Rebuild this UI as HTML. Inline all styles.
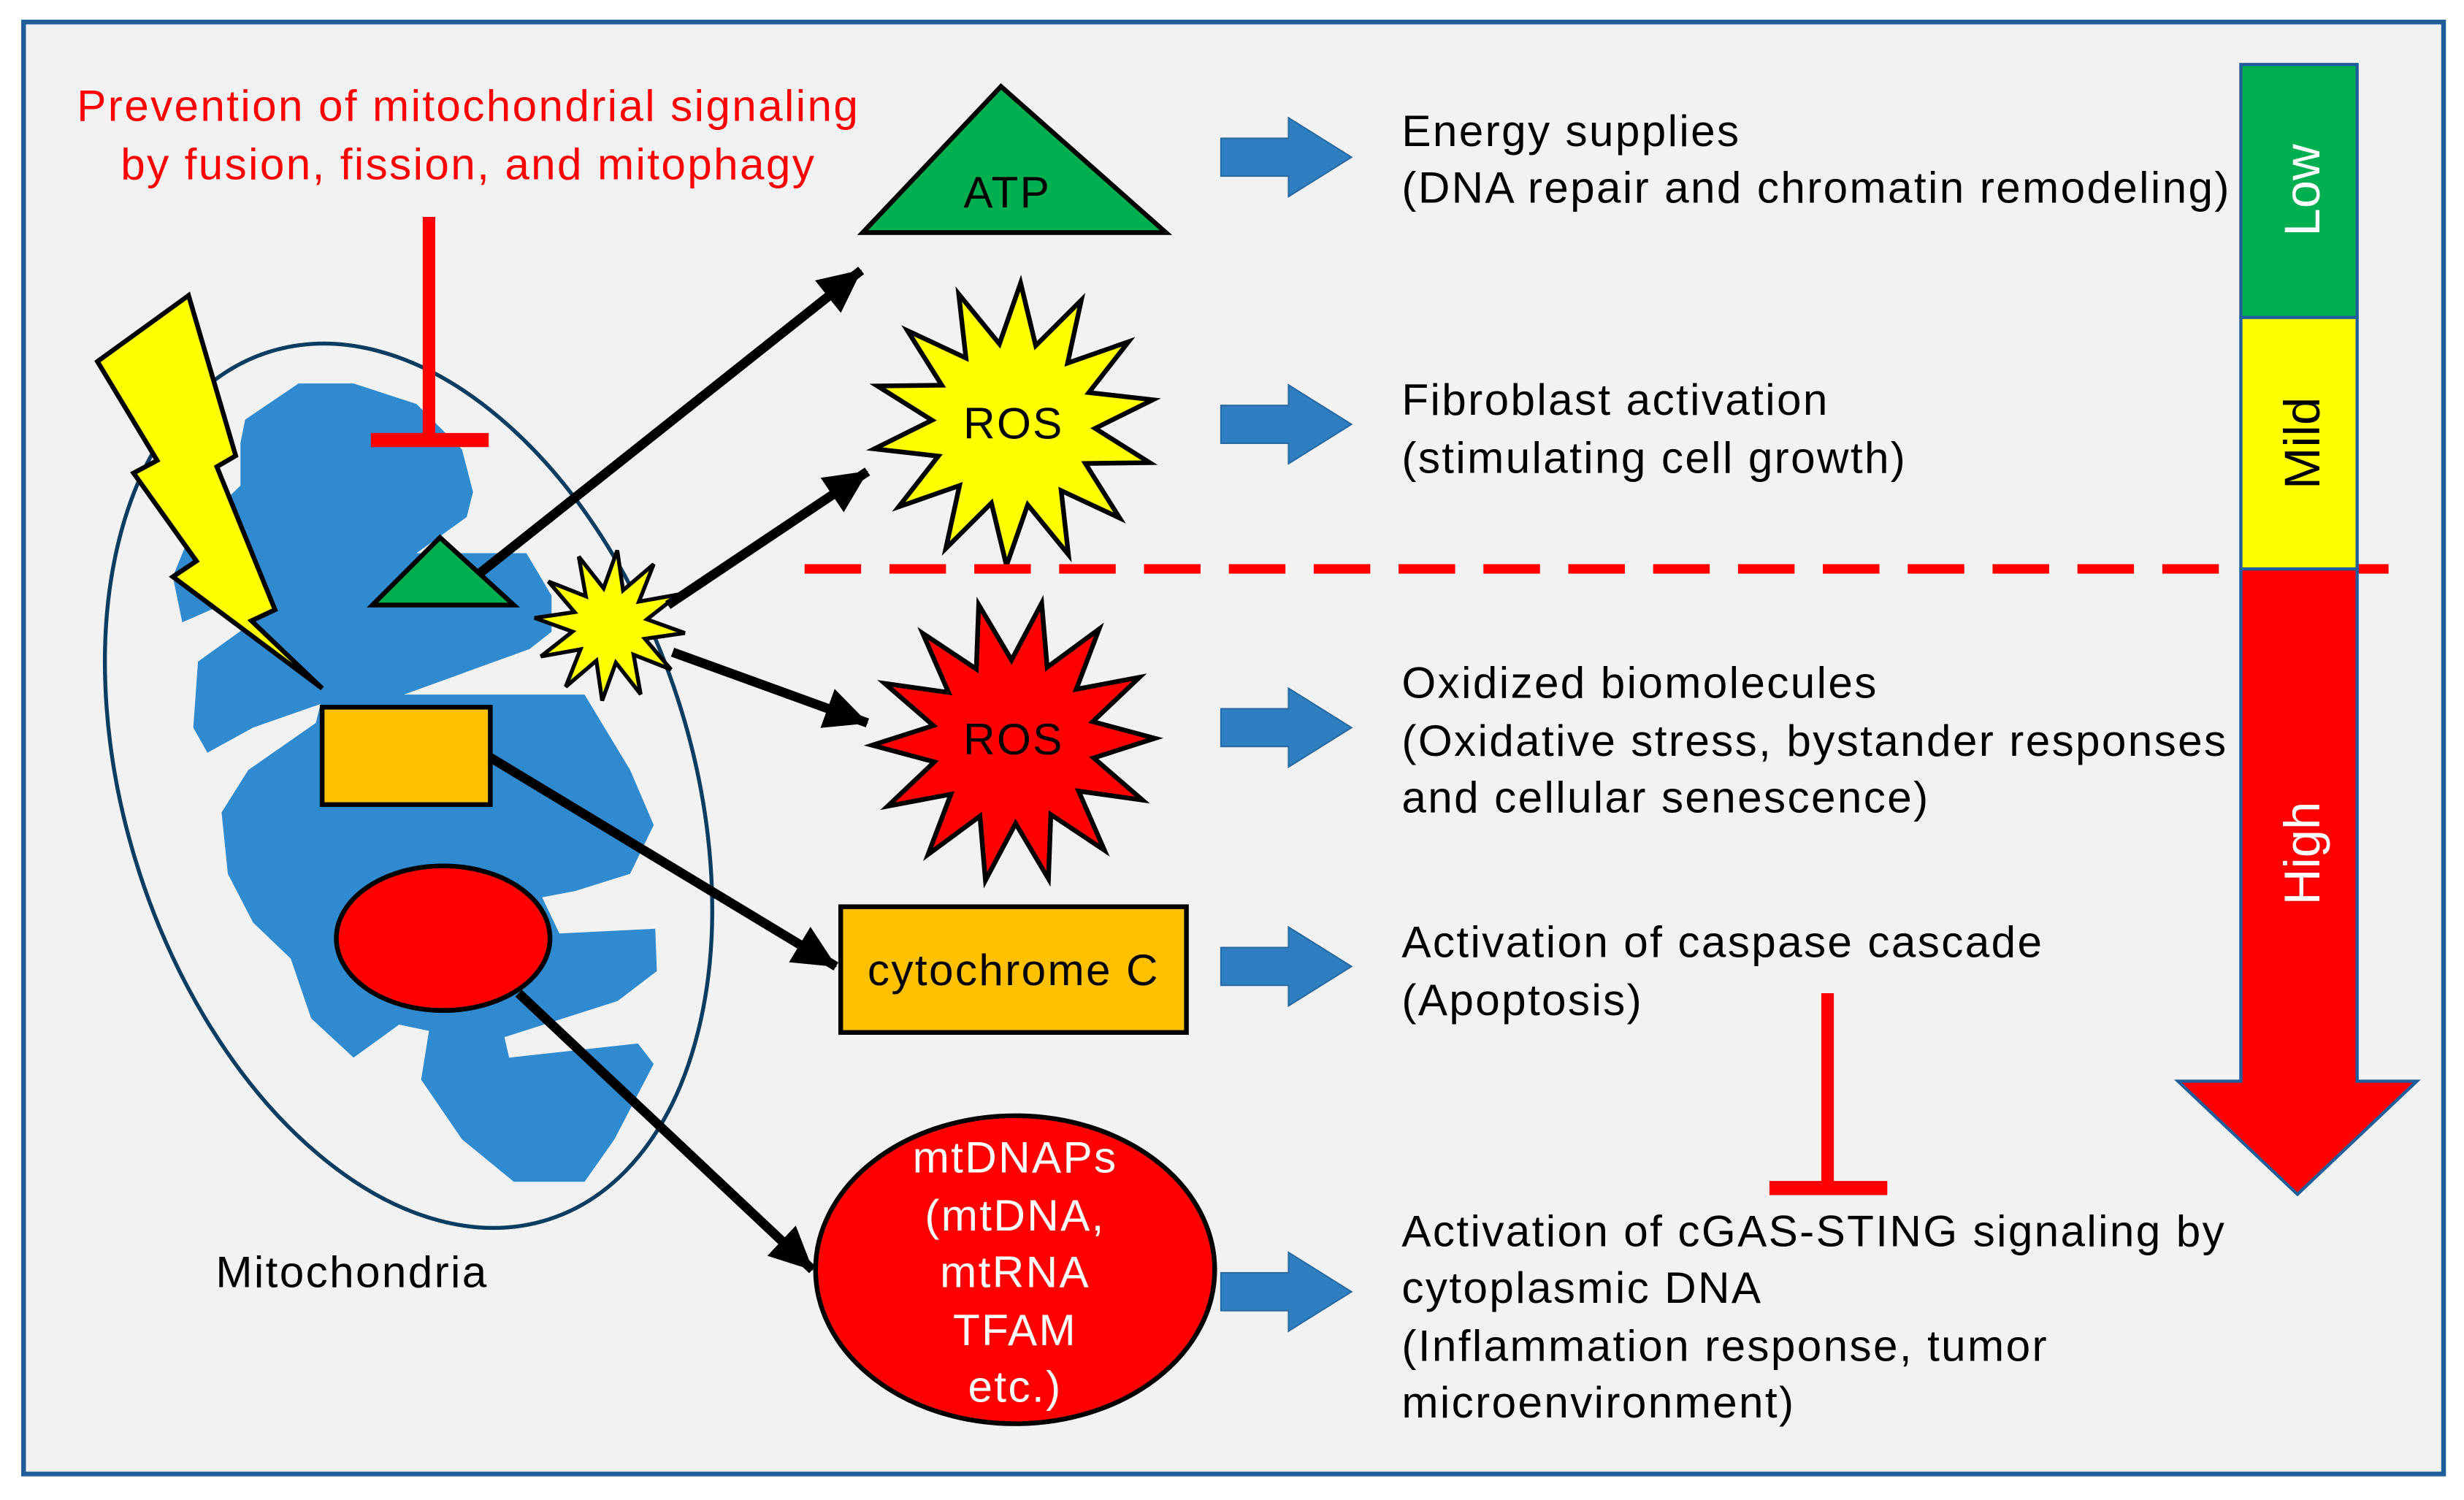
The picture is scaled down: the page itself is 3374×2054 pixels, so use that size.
<!DOCTYPE html>
<html><head><meta charset="utf-8"><style>
html,body{margin:0;padding:0;background:#fff}
svg{display:block}
text{font-family:"Liberation Sans",sans-serif}
.w{letter-spacing:1.1px}
</style></head><body>
<svg width="3374" height="2054" viewBox="0 0 1568 954.5" xmlns="http://www.w3.org/2000/svg">
<defs>
<marker id="ah" markerWidth="5" markerHeight="5" refX="4.5" refY="2.5" orient="auto" markerUnits="strokeWidth"><path d="M0,0.3 L4.6,2.5 L0,4.7 Z" fill="#000"/></marker>
</defs>
<rect x="15" y="14" width="1540" height="924" fill="#f2f2f2" stroke="#1f5e9a" stroke-width="3"/>
<text class="w" x="298" y="77" font-size="28" fill="#ff0000" text-anchor="middle">Prevention of mitochondrial signaling</text>
<text class="w" x="298" y="114" font-size="28" fill="#ff0000" text-anchor="middle">by fusion, fission, and mitophagy</text>
<ellipse cx="260" cy="500" rx="180" ry="290" transform="rotate(-18 260 500)" fill="none" stroke="#0b3d62" stroke-width="2.5"/>
<path fill="#2f8ad0" d="M156,267 L190,244 L225,244 L265,257 L294,286 L301,313 L297,329 L265,352 L335,352 L351,379 L351,402 L337,413 L257,442 L372,442 L401,490 L416,525 L401,556 L366,567 L345,571 L356,594 L417,591 L418,618 L393,637 L321,660 L324,673 L406,664 L416,677 L391,725 L372,752 L327,752 L294,725 L268,687 L273,656 L254,652 L225,673 L198,648 L185,610 L161,587 L145,556 L141,517 L158,490 L201,460 L204,448 L161,463 L132,479 L123,463 L126,421 L158,398 L148,382 L116,396 L110,367 L121,340 L153,309 L153,282 Z"/>
<polygon points="62,230 120,188 150,290 138,297 175,388 160,395 205,438 110,367 125,357 85,301 100,293" fill="#ffff00" stroke="#000" stroke-width="3" stroke-linejoin="miter"/>
<polygon points="237,385 280,342 327,385" fill="#00b050" stroke="#000" stroke-width="3"/>
<rect x="205" y="450" width="107" height="62" fill="#ffc000" stroke="#000" stroke-width="3"/>
<ellipse cx="282" cy="597" rx="68" ry="46" fill="#ff0000" stroke="#000" stroke-width="3"/>
<polygon id="s0" fill="#ffff00" stroke="#000" stroke-width="2.5"/>
<g stroke="#000" stroke-width="6" marker-end="url(#ah)">
<line x1="305" y1="365" x2="548" y2="172"/>
<line x1="425" y1="385" x2="552" y2="300"/>
<line x1="428" y1="415" x2="552" y2="460"/>
<line x1="312" y1="482" x2="532" y2="615"/>
<line x1="330" y1="632" x2="517" y2="808"/>
</g>
<line x1="273" y1="138" x2="273" y2="280" stroke="#ff0000" stroke-width="8"/>
<line x1="236" y1="280" x2="311" y2="280" stroke="#ff0000" stroke-width="9"/>
<polygon points="549,148 637,55 742,148" fill="#00b050" stroke="#000" stroke-width="3"/>
<text class="w" x="641" y="132" font-size="28" text-anchor="middle">ATP</text>
<polygon id="s1" fill="#ffff00" stroke="#000" stroke-width="3"/>
<text class="w" x="645" y="279" font-size="28" text-anchor="middle">ROS</text>
<polygon id="s2" fill="#ff0000" stroke="#000" stroke-width="3"/>
<text class="w" x="645" y="480" font-size="28" text-anchor="middle">ROS</text>
<rect x="535" y="577" width="220" height="80" fill="#ffc000" stroke="#000" stroke-width="3"/>
<text class="w" x="645" y="627" font-size="28" text-anchor="middle">cytochrome C</text>
<ellipse cx="646" cy="808" rx="127" ry="98" fill="#ff0000" stroke="#000" stroke-width="3"/>
<g font-size="28" fill="#fff" text-anchor="middle" class="w">
<text x="646" y="746">mtDNAPs</text><text x="646" y="783">(mtDNA,</text><text x="646" y="819">mtRNA</text><text x="646" y="856">TFAM</text><text x="646" y="892">etc.)</text>
</g>
<text class="w" x="224" y="819" font-size="28" text-anchor="middle">Mitochondria</text>
<g fill="#2e7fc2" stroke="#2a6aa3" stroke-width="1">
<polygon id="a0" points="777,88 820,88 820,75 860,100 820,125 820,112 777,112"/>
<use href="#a0" y="170"/><use href="#a0" y="363"/><use href="#a0" y="515"/><use href="#a0" y="722"/>
</g>
<g font-size="28" class="w">
<text x="892" y="93">Energy supplies</text><text x="892" y="129">(DNA repair and chromatin remodeling)</text>
<text x="892" y="264">Fibroblast activation</text><text x="892" y="301">(stimulating cell growth)</text>
<text x="892" y="444">Oxidized biomolecules</text><text x="892" y="481">(Oxidative stress, bystander responses</text><text x="892" y="517">and cellular senescence)</text>
<text x="892" y="609">Activation of caspase cascade</text><text x="892" y="646">(Apoptosis)</text>
<text x="892" y="793">Activation of cGAS-STING signaling by</text><text x="892" y="829">cytoplasmic DNA</text><text x="892" y="866">(Inflammation response, tumor</text><text x="892" y="902">microenvironment)</text>
</g>
<line x1="512" y1="362" x2="1525" y2="362" stroke="#ff0000" stroke-width="6" stroke-dasharray="36,18"/>
<polygon points="1426,362 1500,362 1500,688 1538,688 1462,760 1386,688 1426,688" fill="#ff0000" stroke="#1f5e9a" stroke-width="2"/>
<rect x="1426" y="41" width="74" height="161" fill="#00b050" stroke="#1f5e9a" stroke-width="2"/>
<rect x="1426" y="202" width="74" height="160" fill="#ffff00" stroke="#1f5e9a" stroke-width="2"/>
<text transform="translate(1476,121) rotate(-90)" font-size="32" fill="#fff" text-anchor="middle">Low</text>
<text transform="translate(1476,282) rotate(-90)" font-size="32" fill="#000" text-anchor="middle">Mild</text>
<text transform="translate(1476,543) rotate(-90)" font-size="32" fill="#fff" text-anchor="middle">High</text>
<line x1="1163" y1="632" x2="1163" y2="756" stroke="#ff0000" stroke-width="8"/>
<line x1="1126" y1="756" x2="1201" y2="756" stroke="#ff0000" stroke-width="9"/>
</svg>
<script>
function star(id,cx,cy,ro,ri,n,rot){var p=[];for(var i=0;i<2*n;i++){var r=i%2?ri:ro;var a=rot+Math.PI*i/n;p.push((cx+r*Math.sin(a)).toFixed(1)+","+(cy-r*Math.cos(a)).toFixed(1));}document.getElementById(id).setAttribute("points",p.join(" "));}
star("s0",388,398,48,24,12,0.1);
star("s1",645,270,90,52,14,0.05);
star("s2",645,472,90,52,14,0.2);
</script>
</body></html>
